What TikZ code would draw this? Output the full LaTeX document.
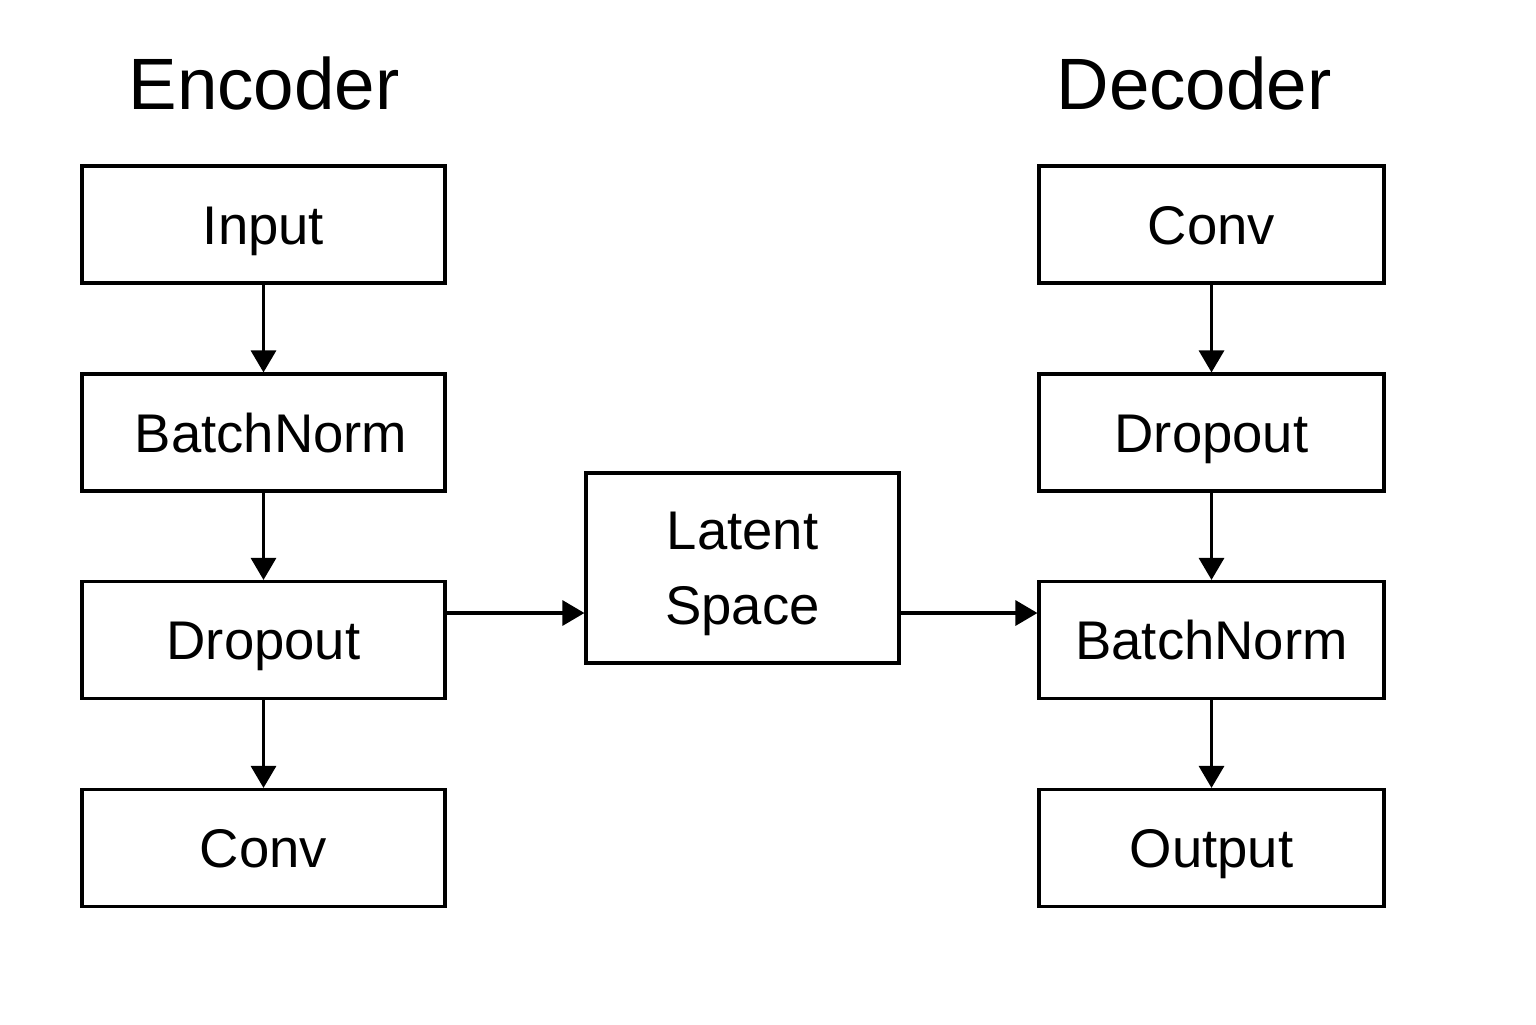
\documentclass[tikz,border=0pt]{standalone}
\usepackage{fontspec}
\setmainfont{Liberation Sans}
\usetikzlibrary{arrows.meta}
\tikzset{
  cornice/.style = {rectangle, draw, line width=0.9pt, inner sep=0, font=\fontsize{15.5}{21.3}\selectfont},
  blocco/.style  = {cornice, minimum width=36.3mm, minimum height=11.7mm, text height=11.3pt, text depth=0pt},
  latente/.style = {cornice, minimum width=31.3mm, minimum height=19mm, align=center},
  titolo/.style  = {font=\fontsize{20.7}{25}\selectfont},
  flusso/.style  = {line width=0.9pt, -{Triangle[length=2.2mm, width=2.5mm]}}
}
\begin{document}
\begin{tikzpicture}
  \useasboundingbox (0,0) rectangle (15.36,-10.24);

  % ---- titoli ----
  \node[titolo] (tenc) at (2.64,-0.83) {Encoder};
  \node[titolo] (tdec) at (11.94,-0.83) {Decoder};

  % ---- encoder ----
  \node[blocco] (inp) at (2.635,-2.245) {Input};
  \node[blocco] (ebn) at (2.635,-4.325) {\hspace{1.5mm}BatchNorm};
  \node[blocco] (edo) at (2.635,-6.40)  {Dropout};
  \node[blocco] (ecv) at (2.635,-8.48)  {Conv};

  % ---- spazio latente ----
  \node[latente] (lat) at (7.425,-5.68) {\rule{0pt}{14pt}Latent\\Space};

  % ---- decoder ----
  \node[blocco, minimum width=34.5mm] (dcv) at (12.115,-2.245) {Conv};
  \node[blocco, minimum width=34.5mm] (ddo) at (12.115,-4.325) {Dropout};
  \node[blocco, minimum width=34.5mm] (dbn) at (12.115,-6.40)  {BatchNorm};
  \node[blocco, minimum width=34.5mm] (out) at (12.115,-8.48)  {Output};

  % ---- frecce ----
  \draw[flusso] (inp) -- (ebn);
  \draw[flusso] (ebn) -- (edo);
  \draw[flusso] (edo) -- (ecv);
  \draw[flusso] ([yshift=2.7mm]edo.east) -- ([yshift=2.7mm]edo.east -| lat.west);
  \draw[flusso] ([yshift=2.7mm]dbn.west -| lat.east) -- ([yshift=2.7mm]dbn.west);
  \draw[flusso] (dcv) -- (ddo);
  \draw[flusso] (ddo) -- (dbn);
  \draw[flusso] (dbn) -- (out);

\end{tikzpicture}
\end{document}
